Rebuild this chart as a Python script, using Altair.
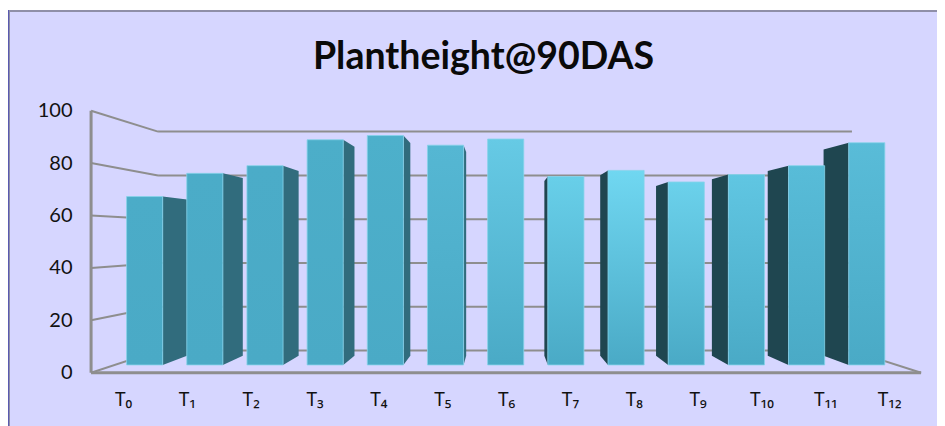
import json
import altair as alt
import pandas as pd

TITLE = "Plantheight@90DAS"
LABELS = ["T₀", "T₁", "T₂", "T₃", "T₄", "T₅", "T₆", "T₇", "T₈", "T₉", "T₁₀", "T₁₁", "T₁₂"]
VALUES = [68.2, 77.6, 80.7, 91.2, 92.9, 89.0, 91.5, 76.3, 78.8, 74.1, 77.1, 80.7, 90.0]
TICKS = [0, 20, 40, 60, 80, 100]

# styles
TOP_COLORS = ["#4bacc8", "#4bacc8", "#4bacc8", "#4caec9", "#4db0cb", "#55b7d3", "#66cae5",
              "#68cfe9", "#70d7f1", "#6bd1eb", "#60c6e2", "#58bcd8", "#59bcd8"]
BOTTOM_COLOR = "#4aaac6"
SIDE_COLORS = ["#316c7d"] * 7 + ["#1f4650"] * 6
GRID = "#8e8e8e"
W, H = 929, 418

# simple one-point perspective (category units, value units)
VS, VV = 5.897, 51.4
K_BACK, K_FACE, K_SIDE = 0.836, 0.9425, 0.928
HALF = 0.3


def proj(s, v, k):
    return VS + (s - VS) * k, VV + (v - VV) * k


x_scale = alt.Scale(domain=[-1.8011, 12.749], range=[0, W], nice=False, zero=False)
y_scale = alt.Scale(domain=[-20.34, 139.2], range=[H, 0], nice=False, zero=False)
x_axis = alt.Axis(
    values=list(range(13)), offset=-53, labelPadding=17, domain=False, ticks=False, grid=False, title=None,
    labelExpr=json.dumps(LABELS, ensure_ascii=False) + "[datum.value]", zindex=1,
    labelFont="Noto Sans", labelFontSize=19, labelColor="#111111", labelFlush=False, labelOverlap=False)
y_axis = alt.Axis(
    values=TICKS, offset=-83, labelPadding=19, domain=False, ticks=False, grid=False, title=None, zindex=1,
    labelFont="Lato", labelFontSize=20, labelColor="#111111")
X = lambda f="x": alt.X(f"{f}:Q", scale=x_scale, axis=x_axis)
Y = lambda f="y": alt.Y(f"{f}:Q", scale=y_scale, axis=y_axis)

layers = []

# panel
panel = alt.Chart(pd.DataFrame({"a": [0]})).mark_rect(
    fill="#d6d6ff", stroke="#8f8fa8", strokeWidth=2
).encode(x=alt.value(1), x2=alt.value(W + 20), y=alt.value(3), y2=alt.value(H + 20))
edge = alt.Chart(pd.DataFrame({"a": [0]})).mark_rule(color="#5a5ab0", strokeWidth=1).encode(
    x=alt.value(0.5), y=alt.value(2), y2=alt.value(H))
layers += [panel, edge]

# walls
rows = []
for t in TICKS:
    xb0, yb0 = proj(-0.5, t, K_BACK)
    xb1, _ = proj(12.5, t, K_BACK)
    rows.append(dict(x=-0.5, x2=xb0, y=t, y2=yb0))
    rows.append(dict(x=xb0, x2=xb1, y=yb0, y2=yb0))
xr, yr = proj(12.5, 0, K_BACK)
rows.append(dict(x=12.5, x2=xr, y=0, y2=yr))
layers.append(
    alt.Chart(pd.DataFrame(rows)).mark_rule(color=GRID, strokeWidth=2).encode(
        x=X(), x2="x2:Q", y=Y(), y2="y2:Q")
)
frame = pd.DataFrame([dict(x=-0.5, x2=-0.5, y=0, y2=100), dict(x=-0.5, x2=12.5, y=0, y2=0)])
layers.append(
    alt.Chart(frame).mark_rule(color=GRID, strokeWidth=3).encode(
        x=X(), x2="x2:Q", y=Y(), y2="y2:Q")
)

# bar sides first, then fronts
for i, v in enumerate(VALUES):
    edge_s = i + HALF if i < 6 else i - HALF
    f_x, f_top = proj(edge_s, v, K_FACE)
    _, f_bot = proj(edge_s, 0, K_FACE)
    b_x, b_top = VS + (f_x - VS) * K_SIDE, VV + (f_top - VV) * K_SIDE
    b_bot = VV + (f_bot - VV) * K_SIDE
    if i == 6:
        continue
    side = pd.DataFrame({"x": [f_x, b_x], "y": [f_top, b_top], "y2": [f_bot, b_bot]})
    layers.append(
        alt.Chart(side).mark_area(color=SIDE_COLORS[i], interpolate="linear").encode(
            x=X(), y=Y(), y2="y2:Q")
    )

for i, v in enumerate(VALUES):
    x0, top = proj(i - HALF, v, K_FACE)
    x1, bot = proj(i + HALF, 0, K_FACE)
    face = pd.DataFrame({"x": [x0], "x2": [x1], "y": [top], "y2": [bot]})
    grad = alt.Gradient(
        gradient="linear", x1=0, y1=0, x2=0, y2=1,
        stops=[alt.GradientStop(color=TOP_COLORS[i], offset=0),
               alt.GradientStop(color=BOTTOM_COLOR, offset=1)])
    layers.append(
        alt.Chart(face).mark_rect(color=grad, stroke="#86d3ea", strokeWidth=0.8).encode(
            x=X(), x2="x2:Q", y=Y(), y2="y2:Q")
    )

# title
layers.append(
    alt.Chart(pd.DataFrame({"t": [TITLE]})).mark_text(
        font="Lato", fontWeight="bold", fontSize=37.5, color="#0a0a0a", align="center", baseline="middle"
    ).encode(text="t:N", x=alt.value(475.5), y=alt.value(50))
)

chart = alt.layer(*layers).properties(
    width=W, height=H, padding=0, autosize=alt.AutoSizeParams(type="none"), background="#ffffff"
).configure_view(stroke=None)

chart.save("out.html", embed_options={"renderer": "svg", "actions": False})
